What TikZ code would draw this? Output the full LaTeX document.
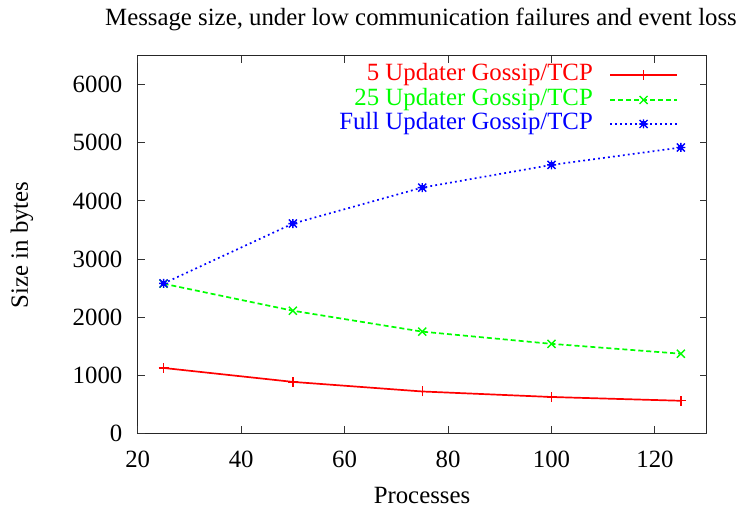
\documentclass[tikz,border=0pt]{standalone}
\usepackage{fontspec}
\setmainfont{Liberation Serif}
\begin{document}
\begin{tikzpicture}[x=1pt,y=-1pt,
  lbl/.style={font=\fontsize{24.8}{28}\selectfont, inner sep=0pt},
  tick/.style={line width=1pt, draw=black!80},
  frame/.style={line width=1.3pt, draw=black!85},
  serA/.style={line width=1.7pt, draw=red},
  serB/.style={line width=1.7pt, draw=green, dash pattern=on 5pt off 3pt},
  serC/.style={line width=1.7pt, draw=blue, dash pattern=on 1.8pt off 3.2pt},
  mk/.style={line width=1.4pt}]
\useasboundingbox (0,0) rectangle (746,513);
% axis mapping: x 20..130, y 0..6500
\def\xl{137.7}\def\xr{706.7}\def\yb{433.3}\def\yt{55.7}
\def\sx{5.1727}\def\sy{0.05809}
% frame
\draw[frame] (\xl,\yt) rectangle (\xr,\yb);
% y ticks
\foreach \v in {0,1000,...,6000}{
  \draw[tick] (\xl,{\yb-\v*\sy}) -- ++(7,0);
  \draw[tick] (\xr,{\yb-\v*\sy}) -- ++(-7,0);
  \node[lbl, anchor=east] (ylab\v) at (122.5,{\yb-\v*\sy}) {\v};
}
% x ticks
\foreach \v in {20,40,...,120}{
  \draw[tick] ({\xl+(\v-20)*\sx},\yb) -- ++(0,-7);
  \draw[tick] ({\xl+(\v-20)*\sx},\yt) -- ++(0,7);
  \node[lbl, anchor=center] (xlab\v) at ({\xl+(\v-20)*\sx},459) {\v};
}
% titles
\node[lbl] (title) at (421,19) {Message size, under low communication failures and event loss};
\node[lbl, rotate=90] (ytitle) at (22,245) {Size in bytes};
\node[lbl] (xtitle) at (422,495) {Processes};
% data points
\foreach \p/\a/\b/\c in {25/1125/2575/2580, 50/885/2110/3610, 75/720/1750/4230, 100/625/1540/4620, 125/560/1370/4920}{
  \coordinate (a\p) at ({\xl+(\p-20)*\sx},{\yb-\a*\sy});
  \coordinate (b\p) at ({\xl+(\p-20)*\sx},{\yb-\b*\sy});
  \coordinate (c\p) at ({\xl+(\p-20)*\sx},{\yb-\c*\sy});
}
\draw[serA] (a25) -- (a50) -- (a75) -- (a100) -- (a125);
\draw[serB] (b25) -- (b50) -- (b75) -- (b100) -- (b125);
\draw[serC] (c25) -- (c50) -- (c75) -- (c100) -- (c125);
% legend
\node[lbl, anchor=east, text=red] (legA) at (593,75) {5 Updater Gossip/TCP};
\node[lbl, anchor=east, text=green] (legB) at (593,100) {25 Updater Gossip/TCP};
\node[lbl, anchor=east, text=blue] (legC) at (593,124) {Full Updater Gossip/TCP};
\coordinate (la0) at (610,75); \coordinate (la1) at (677,75); \coordinate (lam) at (643.5,75);
\coordinate (lb0) at (610,100); \coordinate (lb1) at (677,100); \coordinate (lbm) at (643.5,100);
\coordinate (lc0) at (610,124); \coordinate (lc1) at (677,124); \coordinate (lcm) at (643.5,124);
\draw[serA] (la0) -- (la1);
\draw[serB] (lb0) -- (lb1);
\draw[serC] (lc0) -- (lc1);
% markers
\foreach \n in {a25,a50,a75,a100,a125,lam}{
  \draw[mk, red] ([xshift=-5pt]\n) -- ([xshift=5pt]\n) ([yshift=-5pt]\n) -- ([yshift=5pt]\n);
}
\foreach \n in {b25,b50,b75,b100,b125,lbm}{
  \draw[mk, green] ([shift={(-4,-4)}]\n) -- ([shift={(4,4)}]\n) ([shift={(-4,4)}]\n) -- ([shift={(4,-4)}]\n);
}
\foreach \n in {c25,c50,c75,c100,c125,lcm}{
  \draw[mk, blue] ([shift={(-4,-4)}]\n) -- ([shift={(4,4)}]\n) ([shift={(-4,4)}]\n) -- ([shift={(4,-4)}]\n)
    ([xshift=-4.5pt]\n) -- ([xshift=4.5pt]\n) ([yshift=-4.5pt]\n) -- ([yshift=4.5pt]\n);
  \fill[blue] ([shift={(-2.5,-2.5)}]\n) rectangle ([shift={(2.5,2.5)}]\n);
}
\end{tikzpicture}
\end{document}
